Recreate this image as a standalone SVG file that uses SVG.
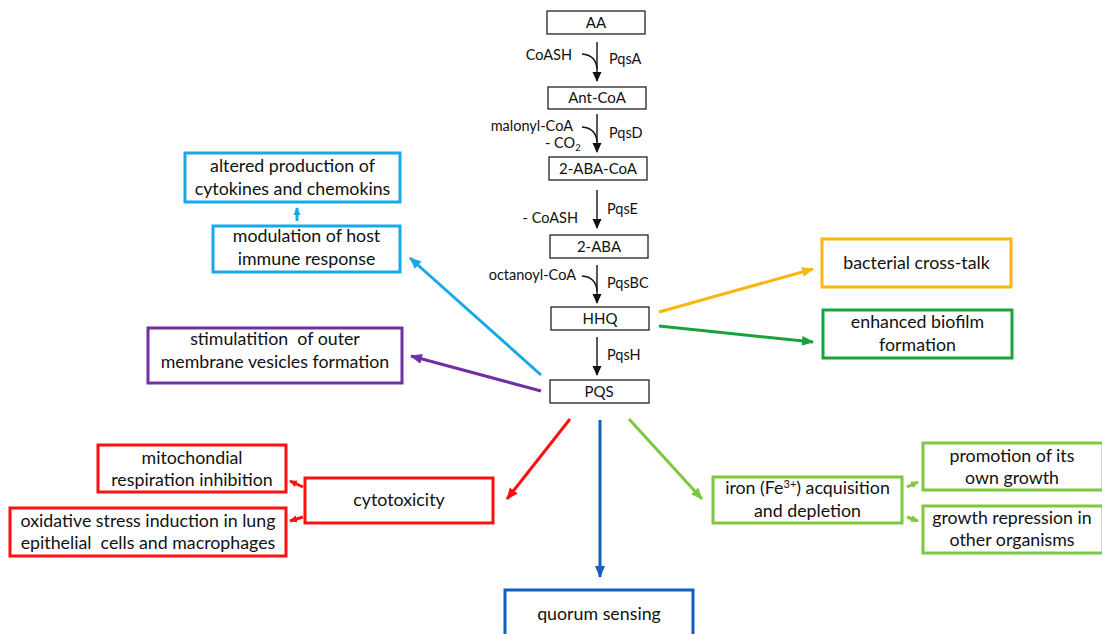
<svg xmlns="http://www.w3.org/2000/svg" width="1102" height="634" viewBox="0 0 1102 634">
<style>
text{font-family:Lato,"Open Sans","Liberation Sans",sans-serif;fill:#111;}
.p{font-size:14.5px;}
.pt{font-size:15px;text-anchor:middle;}
.l{font-size:17.8px;text-anchor:middle;}
.pb{fill:#fff;stroke:#222;stroke-width:1.3;}
.cb{fill:#fff;stroke-width:3;}
.ln{fill:none;stroke-width:3;}
</style>
<defs>
<marker id="mk" markerUnits="userSpaceOnUse" markerWidth="10" markerHeight="10" refX="9" refY="5" orient="auto"><path d="M0,0.5 L10,5 L0,9.5 Z" fill="#111"/></marker>
<marker id="mlb" markerUnits="userSpaceOnUse" markerWidth="12" markerHeight="12" refX="11" refY="6" orient="auto"><path d="M0,1 L12,6 L0,11 Z" fill="#1AA7E8"/></marker>
<marker id="mpu" markerUnits="userSpaceOnUse" markerWidth="12" markerHeight="12" refX="11" refY="6" orient="auto"><path d="M0,1 L12,6 L0,11 Z" fill="#7030A0"/></marker>
<marker id="mre" markerUnits="userSpaceOnUse" markerWidth="12" markerHeight="12" refX="11" refY="6" orient="auto"><path d="M0,1 L12,6 L0,11 Z" fill="#FF1010"/></marker>
<marker id="mdb" markerUnits="userSpaceOnUse" markerWidth="12" markerHeight="12" refX="11" refY="6" orient="auto"><path d="M0,1 L12,6 L0,11 Z" fill="#1060BD"/></marker>
<marker id="mlg" markerUnits="userSpaceOnUse" markerWidth="12" markerHeight="12" refX="11" refY="6" orient="auto"><path d="M0,1 L12,6 L0,11 Z" fill="#7DC83C"/></marker>
<marker id="mor" markerUnits="userSpaceOnUse" markerWidth="12" markerHeight="12" refX="11" refY="6" orient="auto"><path d="M0,1 L12,6 L0,11 Z" fill="#FBB511"/></marker>
<marker id="mdg" markerUnits="userSpaceOnUse" markerWidth="12" markerHeight="12" refX="11" refY="6" orient="auto"><path d="M0,1 L12,6 L0,11 Z" fill="#1AA23A"/></marker>
<marker id="mres" markerUnits="userSpaceOnUse" markerWidth="8" markerHeight="8" refX="7" refY="4" orient="auto"><path d="M0,0.5 L8,4 L0,7.5 Z" fill="#FF1010"/></marker>
<marker id="mlgs" markerUnits="userSpaceOnUse" markerWidth="8" markerHeight="8" refX="7" refY="4" orient="auto"><path d="M0,0.5 L8,4 L0,7.5 Z" fill="#7DC83C"/></marker>
<marker id="mlbs" markerUnits="userSpaceOnUse" markerWidth="8" markerHeight="8" refX="7" refY="4" orient="auto"><path d="M0,0.5 L8,4 L0,7.5 Z" fill="#1AA7E8"/></marker>
</defs>

<g id="connectors">
<g stroke="#111" stroke-width="1.4" fill="none">
<line x1="597" y1="42" x2="597" y2="81" marker-end="url(#mk)"/>
<line x1="597" y1="114" x2="597" y2="152" marker-end="url(#mk)"/>
<line x1="597" y1="190" x2="597" y2="228" marker-end="url(#mk)"/>
<line x1="597" y1="265" x2="597" y2="303" marker-end="url(#mk)"/>
<line x1="597" y1="337" x2="597" y2="375" marker-end="url(#mk)"/>
<path d="M582,54 Q596,55 597,69"/>
<path d="M582,127 Q596,128 597,142"/>
<path d="M582,276 Q596,277 597,291"/>
</g>
<line class="ln" stroke="#1AA7E8" x1="541" y1="375" x2="410" y2="258" marker-end="url(#mlb)"/>
<line class="ln" stroke="#1AA7E8" x1="297" y1="221" x2="297" y2="208" marker-end="url(#mlbs)"/>
<line class="ln" stroke="#7030A0" x1="541" y1="391" x2="411" y2="356" marker-end="url(#mpu)"/>
<line class="ln" stroke="#FF1010" x1="570" y1="419" x2="507" y2="499" marker-end="url(#mre)"/>
<line class="ln" stroke="#1060BD" x1="600" y1="420" x2="600" y2="577" marker-end="url(#mdb)"/>
<line class="ln" stroke="#7DC83C" x1="629" y1="419" x2="702" y2="499" marker-end="url(#mlg)"/>
<line class="ln" stroke="#FBB511" x1="659" y1="312" x2="813" y2="269" marker-end="url(#mor)"/>
<line class="ln" stroke="#1AA23A" x1="659" y1="326" x2="813" y2="342" marker-end="url(#mdg)"/>
<line class="ln" stroke="#FF1010" stroke-width="2.5" x1="303" y1="487" x2="290" y2="481" marker-end="url(#mres)"/>
<line class="ln" stroke="#FF1010" stroke-width="2.5" x1="303" y1="517" x2="290" y2="521" marker-end="url(#mres)"/>
<line class="ln" stroke="#7DC83C" stroke-width="2.5" x1="907" y1="487" x2="918" y2="482" marker-end="url(#mlgs)"/>
<line class="ln" stroke="#7DC83C" stroke-width="2.5" x1="907" y1="517" x2="918" y2="521" marker-end="url(#mlgs)"/>
</g>

<g id="pathway-labels">
<text class="p" x="572" y="60" text-anchor="end">CoASH</text>
<text class="p" x="609" y="64">PqsA</text>
<text class="p" x="573" y="131" text-anchor="end">malonyl-CoA</text>
<text class="p" x="545" y="148">- CO<tspan font-size="9.5" dy="3">2</tspan></text>
<text class="p" x="609" y="138">PqsD</text>
<text class="p" x="578" y="223" text-anchor="end">- CoASH</text>
<text class="p" x="607" y="214">PqsE</text>
<text class="p" x="576" y="280" text-anchor="end">octanoyl-CoA</text>
<text class="p" x="607" y="288">PqsBC</text>
<text class="p" x="607" y="360">PqsH</text>
</g>

<g id="AA"><rect class="pb" x="547" y="11" width="98" height="23"/><text class="pt" x="596" y="28">AA</text></g>
<g id="AntCoA"><rect class="pb" x="548" y="87" width="98" height="22"/><text class="pt" x="597" y="103">Ant-CoA</text></g>
<g id="ABACoA"><rect class="pb" x="549" y="157" width="98" height="23"/><text class="pt" x="598" y="174">2-ABA-CoA</text></g>
<g id="ABA"><rect class="pb" x="550" y="235" width="98" height="23"/><text class="pt" x="599" y="252">2-ABA</text></g>
<g id="HHQ"><rect class="pb" x="551" y="307" width="98" height="23"/><text class="pt" x="600" y="324">HHQ</text></g>
<g id="PQS"><rect class="pb" x="550" y="380" width="99" height="23"/><text class="pt" x="599" y="397">PQS</text></g>

<g id="altered"><rect class="cb" stroke="#1AA7E8" x="185" y="153" width="215" height="49"/><text class="l" x="292.5" y="172">altered production of</text><text class="l" x="292.5" y="195">cytokines and chemokins</text></g>
<g id="modulation"><rect class="cb" stroke="#1AA7E8" x="213" y="226" width="187" height="46"/><text class="l" x="306.5" y="242">modulation of host</text><text class="l" x="306.5" y="265">immune response</text></g>
<g id="vesicles"><rect class="cb" stroke="#7030A0" x="148" y="328" width="254" height="55"/><text class="l" x="275" y="345" xml:space="preserve">stimulatition  of outer</text><text class="l" x="275" y="368">membrane vesicles formation</text></g>
<g id="crosstalk"><rect class="cb" stroke="#FBB511" x="822" y="239" width="189" height="48"/><text class="l" x="916.5" y="269">bacterial cross-talk</text></g>
<g id="biofilm"><rect class="cb" stroke="#1AA23A" x="823" y="310" width="189" height="48"/><text class="l" x="917.5" y="328">enhanced biofilm</text><text class="l" x="917.5" y="351">formation</text></g>
<g id="cytotoxicity"><rect class="cb" stroke="#FF1010" x="305" y="478" width="188" height="45"/><text class="l" x="399" y="506">cytotoxicity</text></g>
<g id="mito"><rect class="cb" stroke="#FF1010" x="98" y="445" width="188" height="47"/><text class="l" x="192" y="464">mitochondial</text><text class="l" x="192" y="486">respiration inhibition</text></g>
<g id="oxidative"><rect class="cb" stroke="#FF1010" x="10" y="508" width="276" height="48"/><text class="l" x="148" y="527">oxidative stress induction in lung</text><text class="l" x="148" y="549" xml:space="preserve">epithelial  cells and macrophages</text></g>
<g id="iron"><rect class="cb" stroke="#7DC83C" x="713" y="477" width="189" height="46"/><text class="l" x="807.5" y="494">iron (Fe<tspan font-size="11" dy="-6">3+</tspan><tspan dy="6">) acquisition</tspan></text><text class="l" x="807.5" y="517">and depletion</text></g>
<g id="promotion"><rect class="cb" stroke="#7DC83C" x="923" y="443" width="180" height="47"/><text class="l" x="1012" y="462">promotion of its</text><text class="l" x="1012" y="484">own growth</text></g>
<g id="repression"><rect class="cb" stroke="#7DC83C" x="923" y="506" width="180" height="47"/><text class="l" x="1012" y="524">growth repression in</text><text class="l" x="1012" y="546">other organisms</text></g>
<g id="quorum"><rect class="cb" stroke="#1060BD" x="505" y="590" width="188" height="60"/><text class="l" x="599" y="620">quorum sensing</text></g>
</svg>
